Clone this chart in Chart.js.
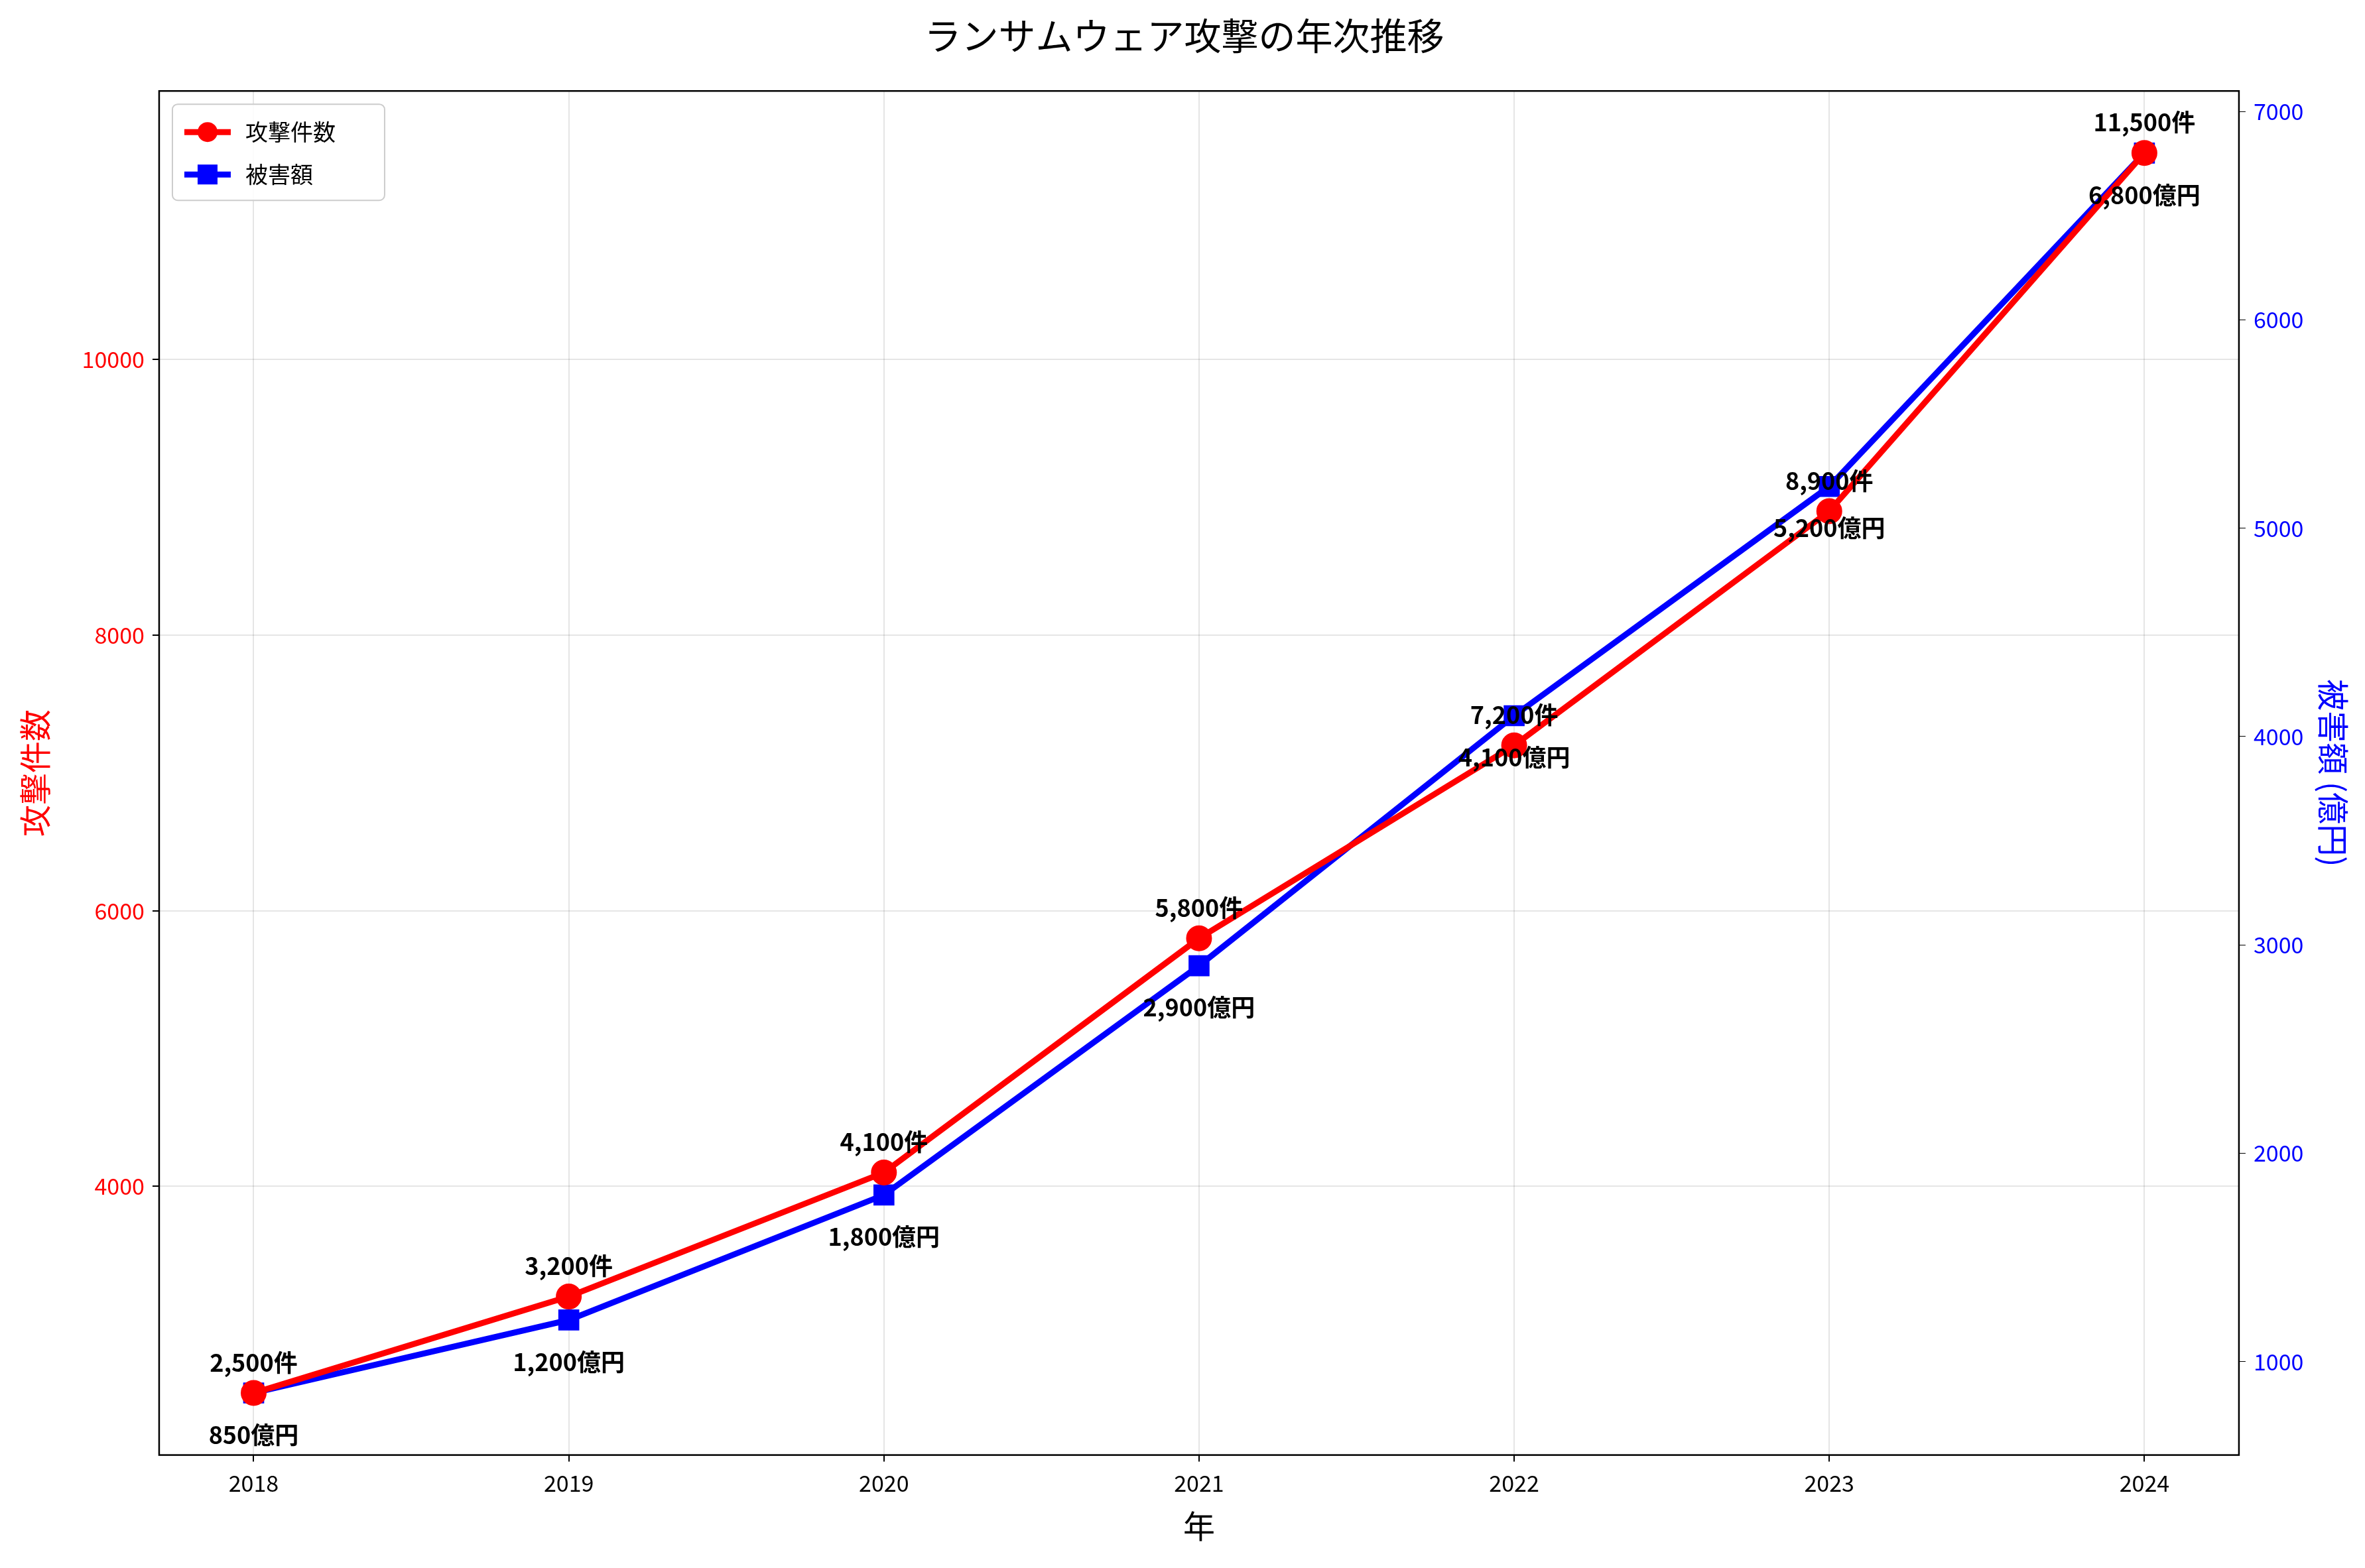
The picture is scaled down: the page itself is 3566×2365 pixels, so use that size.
<!DOCTYPE html>
<html><head><meta charset="utf-8">
<script src="https://cdn.jsdelivr.net/npm/chart.js@4/dist/chart.umd.min.js"></script>
<style>html,body{margin:0;background:#fff}#wrap{width:3566px;height:2365px}</style>
</head><body><div id="wrap"><canvas id="c"></canvas></div>
<script>
const years = [2018, 2019, 2020, 2021, 2022, 2023, 2024];
const attacks = [2500, 3200, 4100, 5800, 7200, 8900, 11500];
const damage = [850, 1200, 1800, 2900, 4100, 5200, 6800];
const FONT = "'Noto Sans CJK JP', 'DejaVu Sans', sans-serif";

const fmt = v => v.toLocaleString('en-US');

const extras = {
  id: 'extras',
  afterDatasetsDraw(chart) {
    const ctx = chart.ctx, x = chart.scales.x, y = chart.scales.y, y1 = chart.scales.y1;
    const a = chart.chartArea;
    ctx.save();
    ctx.font = 'bold 36px ' + FONT;
    ctx.fillStyle = '#000';
    ctx.textAlign = 'center';
    years.forEach((yr, i) => {
      ctx.textBaseline = 'bottom';
      ctx.fillText(fmt(attacks[i]) + '件', x.getPixelForValue(yr), y.getPixelForValue(attacks[i]) - 28);
      ctx.textBaseline = 'top';
      ctx.fillText(fmt(damage[i]) + '億円', x.getPixelForValue(yr), y1.getPixelForValue(damage[i]) + 45);
    });
    // frame
    ctx.strokeStyle = '#000'; ctx.lineWidth = 2.5;
    ctx.strokeRect(a.left, a.top, a.right - a.left, a.bottom - a.top);
    // legend
    const lx = a.left + 20, ly = a.top + 20;
    ctx.fillStyle = 'rgba(255,255,255,0.85)'; ctx.strokeStyle = '#ccc'; ctx.lineWidth = 2;
    ctx.beginPath(); ctx.roundRect(lx, ly, 320, 145, 8); ctx.fill(); ctx.stroke();
    const items = [['攻撃件数', 'red', 'circle'], ['被害額', 'blue', 'rect']];
    ctx.font = '34px ' + FONT; ctx.textAlign = 'left'; ctx.textBaseline = 'middle';
    items.forEach((it, i) => {
      const cy = ly + 42 + i * 64;
      ctx.strokeStyle = it[1]; ctx.fillStyle = it[1]; ctx.lineWidth = 9;
      ctx.beginPath(); ctx.moveTo(lx + 18, cy); ctx.lineTo(lx + 88, cy); ctx.stroke();
      if (it[2] === 'circle') { ctx.beginPath(); ctx.arc(lx + 53, cy, 15, 0, Math.PI * 2); ctx.fill(); }
      else ctx.fillRect(lx + 38, cy - 15, 30, 30);
      ctx.fillStyle = '#000'; ctx.fillText(it[0], lx + 110, cy);
    });
    ctx.restore();
  }
};

new Chart(document.getElementById('c'), {
  type: 'line',
  data: {
    datasets: [
      { label: '攻撃件数', data: years.map((yr, i) => ({ x: yr, y: attacks[i] })), yAxisID: 'y',
        borderColor: 'red', backgroundColor: 'red', borderWidth: 9, pointStyle: 'circle', pointRadius: 15 },
      { label: '被害額', data: years.map((yr, i) => ({ x: yr, y: damage[i] })), yAxisID: 'y1',
        borderColor: 'blue', backgroundColor: 'blue', borderWidth: 9, pointStyle: 'rect', pointRadius: 16 }
    ]
  },
  options: {
    responsive: true, maintainAspectRatio: false, animation: false, devicePixelRatio: 1,
    layout: { padding: { left: 20, right: 15, top: 20, bottom: 30 } },
    plugins: {
      legend: { display: false }, tooltip: { enabled: false },
      title: { display: true, text: 'ランサムウェア攻撃の年次推移', color: '#000',
        font: { family: FONT, size: 56, weight: 'normal' }, padding: { top: 0, bottom: 50 } }
    },
    scales: {
      x: { type: 'linear', min: 2017.7, max: 2024.3, afterBuildTicks: s => { s.ticks = years.map(v => ({ value: v })); },
        ticks: { color: '#000', font: { family: FONT, size: 34 }, callback: v => String(v), padding: 12 },
        grid: { color: 'rgba(0,0,0,0.1)', lineWidth: 2, tickLength: 10, tickColor: '#000' },
        title: { display: true, text: '年', color: '#000', font: { family: FONT, size: 48 } } },
      y: { position: 'left', min: 2050, max: 11950, afterBuildTicks: s => { s.ticks = [4000, 6000, 8000, 10000].map(v => ({ value: v })); },
        ticks: { color: 'red', font: { family: FONT, size: 34 }, callback: v => String(v), padding: 12 },
        grid: { color: 'rgba(0,0,0,0.1)', lineWidth: 2, tickLength: 10, tickColor: '#000' },
        title: { display: true, text: '攻撃件数', color: 'red', font: { family: FONT, size: 48 }, padding: { bottom: 30 } } },
      y1: { position: 'right', min: 552, max: 7098, afterBuildTicks: s => { s.ticks = [1000, 2000, 3000, 4000, 5000, 6000, 7000].map(v => ({ value: v })); },
        ticks: { color: 'blue', font: { family: FONT, size: 34 }, callback: v => String(v), padding: 12 },
        grid: { drawOnChartArea: false, tickLength: 10, tickColor: '#000' },
        title: { display: true, text: '被害額 (億円)', color: 'blue', font: { family: FONT, size: 48 } } }
    }
  },
  plugins: [extras]
});
</script></body></html>
